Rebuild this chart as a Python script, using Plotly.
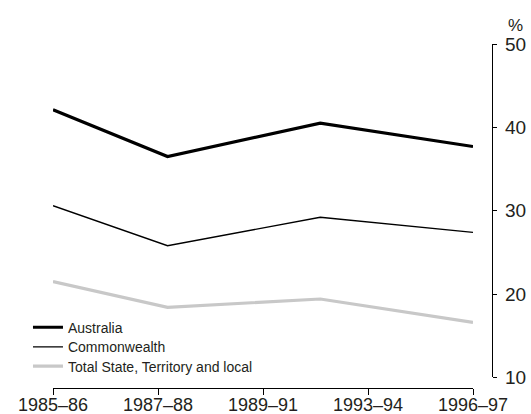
import plotly.graph_objects as go
import numpy as np

# Data
years = [1985, 1988, 1992, 1996]  # start year of each financial year
australia = [42.1, 36.5, 40.5, 37.7]
commonwealth = [30.6, 25.8, 29.2, 27.4]
state_local = [21.5, 18.4, 19.4, 16.6]
tick_labels = ["1985\u201386", "1987\u201388", "1989\u201391", "1993\u201394", "1996\u201397"]
y_ticks = [10, 20, 30, 40, 50]

FONT = "Liberation Sans, Arial, sans-serif"
TXT = "#231f20"

fig = go.Figure()
fig.add_trace(go.Scatter(x=years, y=australia, mode="lines", name="Australia",
                         line=dict(color="#000000", width=3.2), legend="legend"))
fig.add_trace(go.Scatter(x=years, y=commonwealth, mode="lines", name="Commonwealth",
                         line=dict(color="#000000", width=1.4), legend="legend2"))
fig.add_trace(go.Scatter(x=years, y=state_local, mode="lines", name="Total State, Territory and local",
                         line=dict(color="#c8c8c8", width=3.2), legend="legend3"))

tickvals = list(np.linspace(min(years), max(years), len(tick_labels)))

leg_common = dict(x=-0.057, xanchor="left", yanchor="top",
                  bgcolor="rgba(0,0,0,0)", borderwidth=0,
                  font=dict(size=14, family=FONT, color=TXT), itemwidth=30)

fig.update_layout(
    width=531, height=414,
    margin=dict(l=53, r=39, t=44, b=26, autoexpand=False),
    paper_bgcolor="white", plot_bgcolor="white",
    font=dict(family=FONT, color=TXT, size=18),
    showlegend=True,
    legend=dict(y=0.222, **leg_common),
    legend2=dict(y=0.165, **leg_common),
    legend3=dict(y=0.109, **leg_common),
    xaxis=dict(domain=[0, 420/439], range=[min(years), max(years)],
               anchor="free", position=0,
               tickmode="array", tickvals=tickvals, ticktext=tick_labels,
               showgrid=False, zeroline=False, showline=True, linecolor="#000000", linewidth=1.3,
               ticks="outside", ticklen=6, tickwidth=1.3, tickcolor="#000000",
               ticklabelstandoff=-6,
               tickfont=dict(size=18, family=FONT, color=TXT), automargin=False),
    yaxis=dict(domain=[0.031, 1], range=[10, 50], anchor="free", position=1, side="right",
               tickmode="array", tickvals=y_ticks,
               showgrid=False, zeroline=False, showline=True, linecolor="#000000", linewidth=1.3,
               ticks="outside", ticklen=4, tickwidth=1.3, tickcolor="#000000",
               ticklabelstandoff=4,
               tickfont=dict(size=19, family=FONT, color=TXT), automargin=False),
    annotations=[dict(text="%", xref="paper", yref="paper", x=1.053, y=1.0, yshift=7,
                      xanchor="center", yanchor="bottom", showarrow=False,
                      font=dict(size=17, family=FONT, color=TXT))],
)

fig.write_html("out.html", config={"displayModeBar": False},
               post_script="document.body.style.margin='0';document.body.style.overflow='hidden';")
